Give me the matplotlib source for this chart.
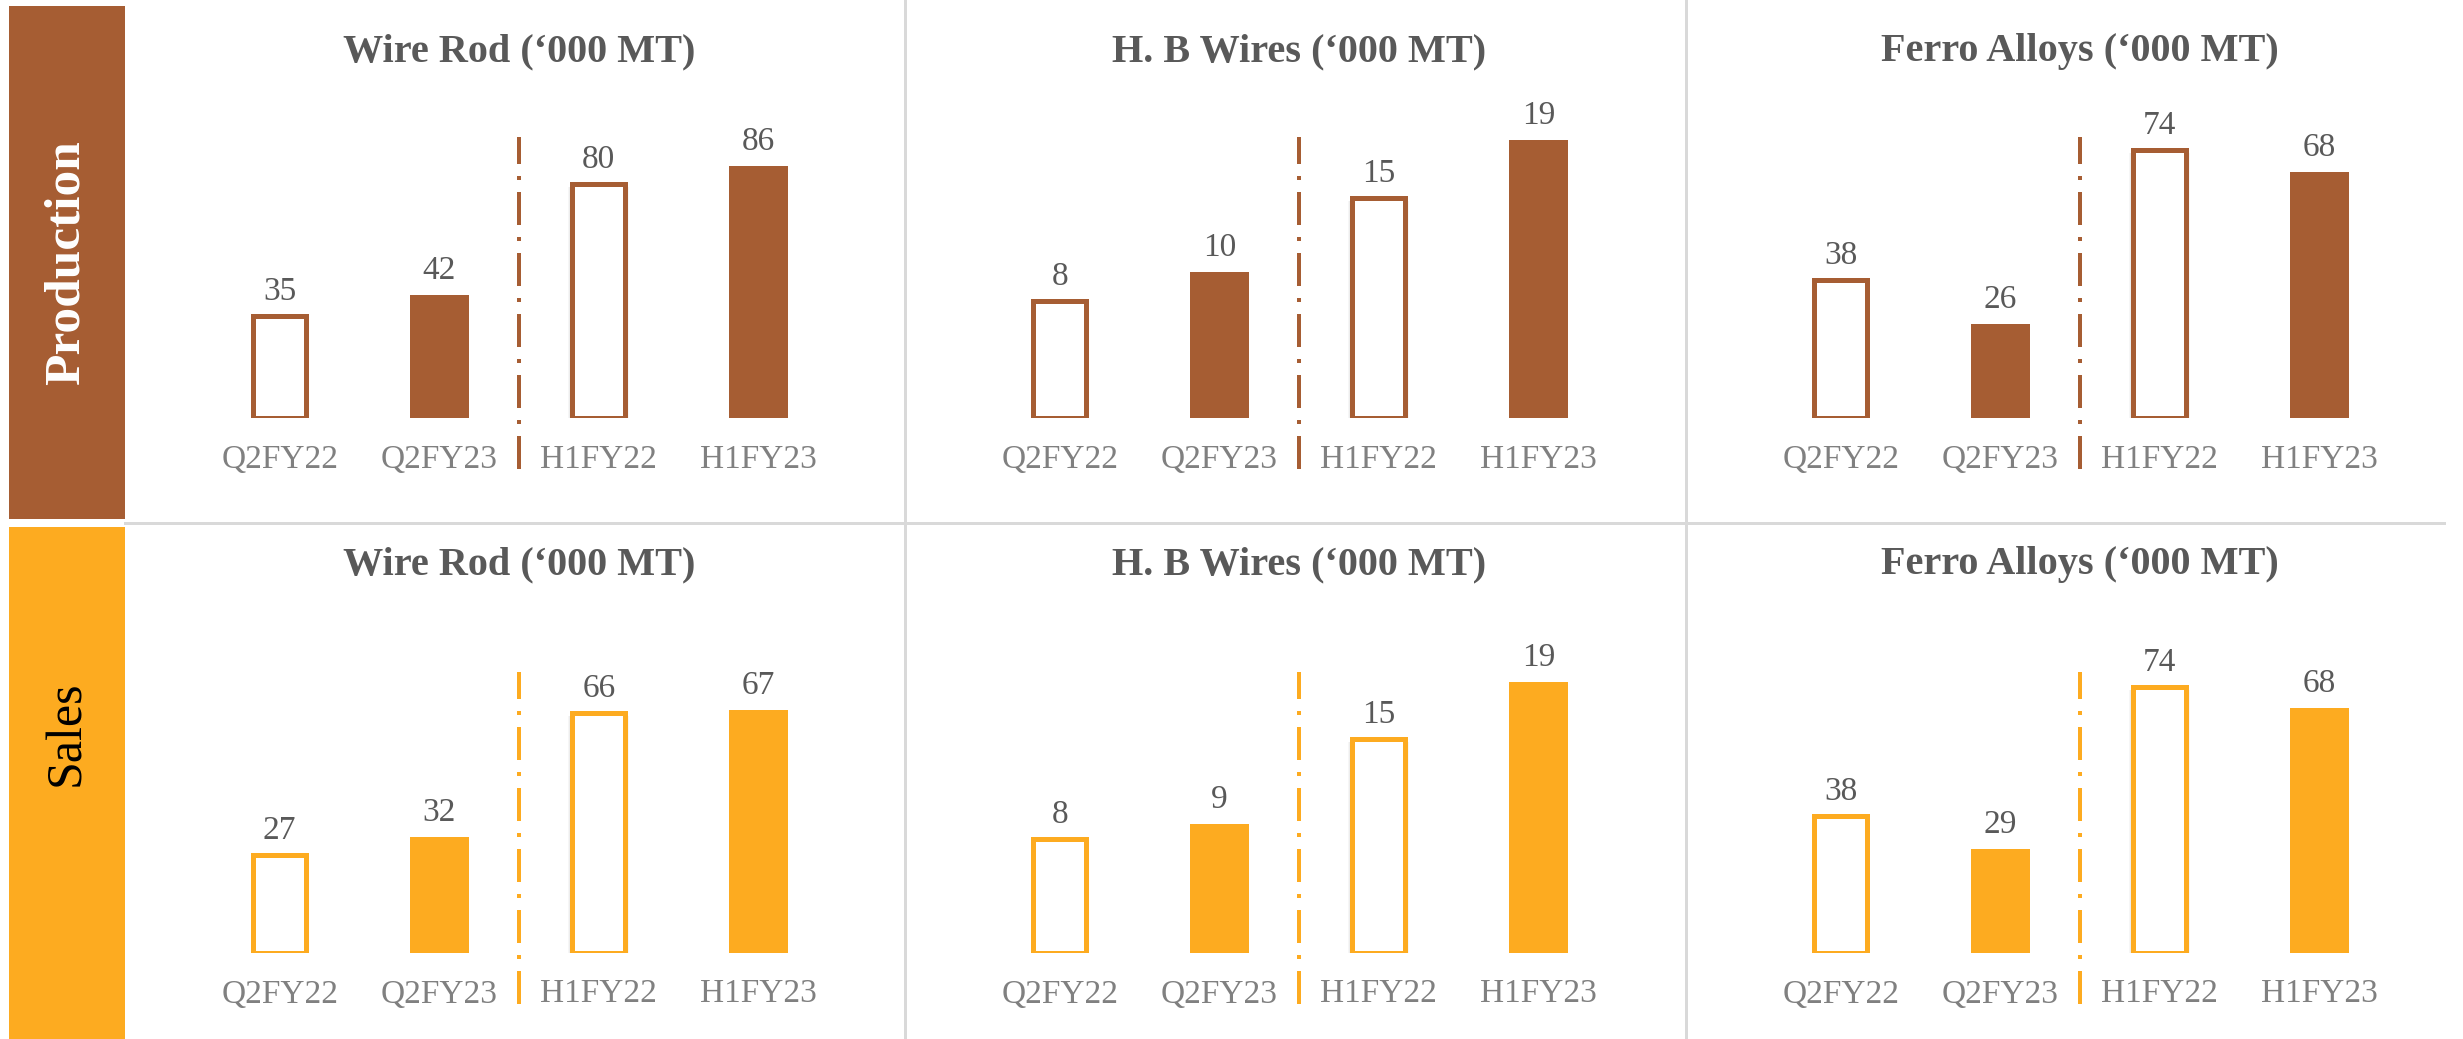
import matplotlib
matplotlib.use("Agg")
import matplotlib.pyplot as plt
from matplotlib.lines import Line2D
from matplotlib.patches import Rectangle

# --------------------------------------------------------------------------------------------------
# data
# --------------------------------------------------------------------------------------------------
periods = ["Q2FY22", "Q2FY23", "H1FY22", "H1FY23"]
products = ["Wire Rod (\u2018000 MT)", "H. B Wires (\u2018000 MT)", "Ferro Alloys (\u2018000 MT)"]

production_wire_rod = [35, 42, 80, 86]
production_hb_wires = [8, 10, 15, 19]
production_ferro = [38, 26, 74, 68]

sales_wire_rod = [27, 32, 66, 67]
sales_hb_wires = [8, 9, 15, 19]
sales_ferro = [38, 29, 74, 68]

# axis maxima per panel (Excel picked its own scale for each chart)
production_ymax = [102.5, 20.5, 82.9]
sales_ymax = [82.6, 21.0, 83.4]

# --------------------------------------------------------------------------------------------------
# style
# --------------------------------------------------------------------------------------------------
W, H = 2463, 1039
DPI = 100
BROWN = "#A65D33"
ORANGE = "#FDAB20"
DARK = "#595959"
TICK = "#808080"
GRID = "#D9D9D9"
SERIF = ["Liberation Serif", "DejaVu Serif"]

plt.rcParams["font.family"] = SERIF
plt.rcParams["lines.scale_dashes"] = False

fig = plt.figure(figsize=(W / DPI, H / DPI), dpi=DPI)


def fx(px):
    return px / W


def fy(py):
    # image y (from top) -> figure fraction (from bottom)
    return 1 - py / H


def pt(px):
    return px * 72 / DPI


# side boxes
fig.add_artist(Rectangle((fx(9), fy(519)), fx(116), (519 - 6) / H, color=BROWN, lw=0))
fig.add_artist(Rectangle((fx(9), fy(1039)), fx(116), (1039 - 527) / H, color=ORANGE, lw=0))
fig.text(fx(67), fy(263), "Production", color="white", fontsize=37, fontweight="bold",
         rotation=90, ha="center", va="center")
fig.text(fx(67), fy(733), "Sales", color="black", fontsize=36,
         rotation=90, ha="center", va="center")

# divider lines
fig.add_artist(Line2D([fx(125), fx(2444)], [fy(523), fy(523)], color=GRID, lw=pt(3)))
for xv in [905, 1686]:
    fig.add_artist(Line2D([fx(xv), fx(xv)], [0, 1], color=GRID, lw=pt(3)))

panel_lefts = [200, 980, 1761]
slot_w = 638
ax_h = 300


def draw_panel(left, baseline, ymax, values, color, title, title_base):
    ax = fig.add_axes([fx(left), fy(baseline), fx(slot_w), ax_h / H])
    ax.set_xlim(-0.5, 3.5)
    ax.set_ylim(0, ymax)
    for s in ax.spines.values():
        s.set_visible(False)
    ax.set_yticks([])
    ax.set_xticks(range(len(periods)))
    ax.set_xticklabels(periods, fontsize=24, color=TICK)
    ax.tick_params(axis="x", length=0, pad=pt(26))
    ax.patch.set_visible(False)

    hollow = [0, 2]
    filled = [1, 3]
    px_unit = ymax / ax_h
    # soft shadow behind the H1FY22 outline bar
    for k in range(1, 5):
        ax.bar(2, values[2] - 3 * px_unit, width=(53 + 2 * k) / (slot_w / 4),
               color="gray", alpha=0.07, lw=0, zorder=1)
    ax.bar(hollow, [values[i] for i in hollow], width=53 / (slot_w / 4),
           facecolor="white", edgecolor=color, lw=pt(5), zorder=2)
    ax.bar(filled, [values[i] for i in filled], width=59 / (slot_w / 4),
           color=color, lw=0, zorder=2)
    for i, v in enumerate(values):
        ax.annotate(str(v), (i, v), xytext=(0, 16), textcoords="offset pixels",
                    ha="center", va="baseline", fontsize=24, color=DARK)
    ax.axvline(1.5, ymin=-51 / ax_h, ymax=281 / ax_h, color=color, lw=pt(4),
               linestyle=(0, (pt(33), pt(12), pt(4), pt(12))), clip_on=False,
               solid_capstyle="butt", dash_capstyle="butt")
    fig.text(fx(left + slot_w / 2), fy(title_base), title, fontsize=29, fontweight="bold",
             color=DARK, ha="center", va="baseline")
    return ax


production = [production_wire_rod, production_hb_wires, production_ferro]
sales = [sales_wire_rod, sales_hb_wires, sales_ferro]

for j in range(3):
    draw_panel(panel_lefts[j], 418, production_ymax[j], production[j], BROWN, products[j], 61)
    draw_panel(panel_lefts[j], 953, sales_ymax[j], sales[j], ORANGE, products[j], 574)

fig.savefig("out.png", dpi=DPI, facecolor="white")
